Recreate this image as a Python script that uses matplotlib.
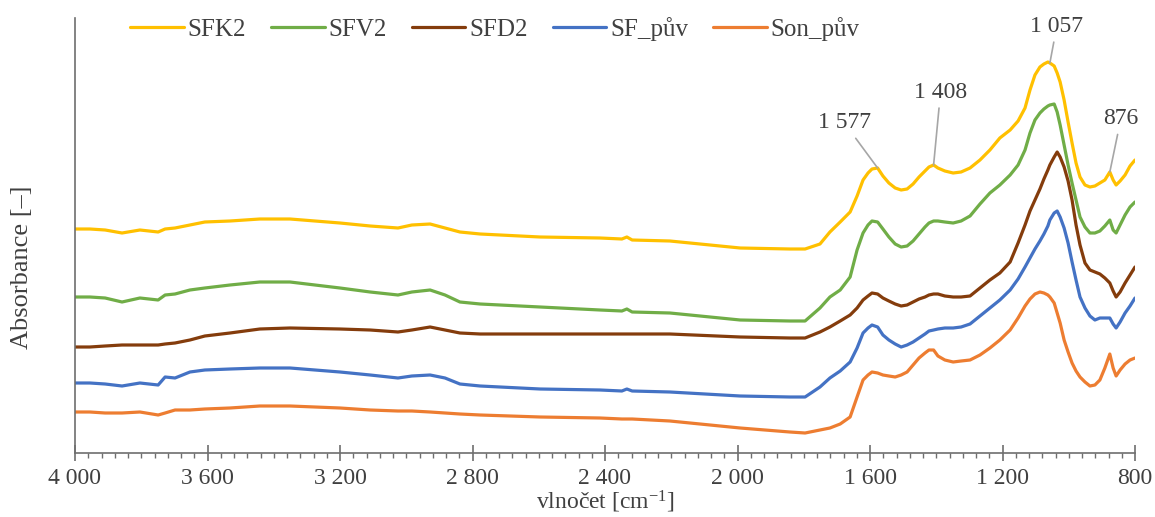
import numpy as np
import matplotlib
matplotlib.use("Agg")
import matplotlib.pyplot as plt
from matplotlib.ticker import MultipleLocator, FuncFormatter

plt.rcParams['font.family'] = ['Liberation Serif', 'DejaVu Serif']
plt.rcParams['mathtext.fontset'] = 'custom'
plt.rcParams['mathtext.rm'] = 'Liberation Serif'
plt.rcParams['mathtext.default'] = 'regular'

# wavenumbers [cm-1], shared by all spectra
wavenumber = [4000, 3955, 3909, 3858, 3804, 3749, 3728, 3698, 3653, 3608,
              3532, 3442, 3351, 3200, 3109, 3025, 2983, 2928, 2883, 2838,
              2777, 2596, 2415, 2349, 2334, 2318, 2204, 1992, 1842, 1796,
              1751, 1721, 1690, 1660, 1639, 1621, 1606, 1594, 1577, 1561,
              1543, 1524, 1506, 1488, 1470, 1452, 1434, 1422, 1408, 1395,
              1374, 1349, 1325, 1298, 1268, 1238, 1208, 1177, 1153, 1132,
              1117, 1102, 1087, 1075, 1063, 1057, 1044, 1035, 1026, 1014,
              1002, 990, 978, 966, 951, 936, 921, 906, 891, 876,
              866, 857, 845, 830, 815, 800]

# absorbance (offset spectra, arbitrary units)
sfk2 = [0.226, 0.226, 0.225, 0.222, 0.225, 0.223, 0.226, 0.227, 0.230, 0.233,
        0.234, 0.236, 0.236, 0.232, 0.229, 0.227, 0.230, 0.231, 0.227, 0.223,
        0.221, 0.218, 0.217, 0.216, 0.218, 0.215, 0.214, 0.207, 0.206, 0.206,
        0.211, 0.223, 0.233, 0.243, 0.259, 0.275, 0.282, 0.286, 0.287, 0.279,
        0.272, 0.267, 0.265, 0.266, 0.271, 0.278, 0.284, 0.288, 0.290, 0.287,
        0.284, 0.282, 0.283, 0.287, 0.295, 0.305, 0.317, 0.325, 0.334, 0.347,
        0.365, 0.380, 0.388, 0.391, 0.393, 0.392, 0.389, 0.382, 0.373, 0.355,
        0.333, 0.312, 0.292, 0.278, 0.270, 0.268, 0.269, 0.272, 0.275, 0.283,
        0.275, 0.270, 0.274, 0.280, 0.289, 0.295]
sfv2 = [0.158, 0.158, 0.157, 0.153, 0.157, 0.155, 0.160, 0.161, 0.165, 0.167,
        0.170, 0.173, 0.173, 0.167, 0.163, 0.160, 0.163, 0.165, 0.160, 0.153,
        0.151, 0.148, 0.145, 0.144, 0.146, 0.143, 0.142, 0.135, 0.134, 0.134,
        0.147, 0.158, 0.165, 0.178, 0.205, 0.222, 0.230, 0.234, 0.233, 0.226,
        0.218, 0.211, 0.208, 0.209, 0.214, 0.221, 0.228, 0.232, 0.234, 0.234,
        0.233, 0.232, 0.234, 0.239, 0.251, 0.262, 0.270, 0.280, 0.290, 0.305,
        0.322, 0.335, 0.342, 0.346, 0.349, 0.350, 0.351, 0.343, 0.330, 0.310,
        0.290, 0.272, 0.255, 0.238, 0.228, 0.222, 0.222, 0.224, 0.229, 0.235,
        0.225, 0.222, 0.230, 0.240, 0.248, 0.253]
sfd2 = [0.108, 0.108, 0.109, 0.110, 0.110, 0.110, 0.111, 0.112, 0.115, 0.119,
        0.122, 0.126, 0.127, 0.126, 0.125, 0.123, 0.125, 0.128, 0.125, 0.122,
        0.121, 0.121, 0.121, 0.121, 0.121, 0.121, 0.121, 0.118, 0.117, 0.117,
        0.123, 0.128, 0.134, 0.140, 0.147, 0.155, 0.159, 0.162, 0.161, 0.157,
        0.154, 0.151, 0.149, 0.150, 0.153, 0.156, 0.158, 0.160, 0.161, 0.161,
        0.159, 0.158, 0.158, 0.159, 0.167, 0.175, 0.182, 0.193, 0.212, 0.230,
        0.244, 0.255, 0.266, 0.276, 0.285, 0.290, 0.298, 0.303, 0.298, 0.288,
        0.274, 0.255, 0.230, 0.210, 0.192, 0.185, 0.183, 0.181, 0.177, 0.172,
        0.164, 0.158, 0.163, 0.172, 0.180, 0.188]
sf_puv = [0.072, 0.072, 0.071, 0.069, 0.072, 0.070, 0.078, 0.077, 0.083, 0.085,
          0.086, 0.087, 0.087, 0.083, 0.080, 0.077, 0.079, 0.080, 0.077, 0.071,
          0.069, 0.066, 0.065, 0.064, 0.066, 0.064, 0.063, 0.059, 0.058, 0.058,
          0.068, 0.077, 0.084, 0.093, 0.107, 0.122, 0.127, 0.130, 0.128, 0.120,
          0.115, 0.111, 0.108, 0.110, 0.113, 0.117, 0.121, 0.124, 0.125, 0.126,
          0.127, 0.127, 0.128, 0.131, 0.139, 0.147, 0.155, 0.165, 0.176, 0.188,
          0.197, 0.206, 0.214, 0.221, 0.229, 0.235, 0.242, 0.244, 0.238, 0.227,
          0.212, 0.193, 0.175, 0.158, 0.147, 0.139, 0.135, 0.137, 0.137, 0.137,
          0.131, 0.127, 0.133, 0.142, 0.149, 0.157]
son_puv = [0.043, 0.043, 0.042, 0.042, 0.043, 0.040, 0.042, 0.045, 0.045, 0.046,
           0.047, 0.049, 0.049, 0.047, 0.045, 0.044, 0.044, 0.043, 0.042, 0.041,
           0.040, 0.038, 0.037, 0.036, 0.036, 0.036, 0.034, 0.027, 0.023, 0.022,
           0.025, 0.027, 0.031, 0.038, 0.058, 0.075, 0.080, 0.083, 0.082, 0.080,
           0.079, 0.078, 0.080, 0.083, 0.090, 0.097, 0.102, 0.105, 0.105, 0.099,
           0.095, 0.093, 0.094, 0.095, 0.100, 0.107, 0.115, 0.125, 0.137, 0.149,
           0.156, 0.161, 0.163, 0.162, 0.160, 0.158, 0.152, 0.142, 0.132, 0.115,
           0.103, 0.092, 0.084, 0.078, 0.073, 0.069, 0.070, 0.075, 0.087, 0.101,
           0.087, 0.079, 0.085, 0.091, 0.095, 0.097]

series_names = ["SFK2", "SFV2", "SFD2", "SF_pův", "Son_pův"]
series_colors = ["#FFC000", "#70AD47", "#843C0C", "#4472C4", "#ED7D31"]

# labelled bands on the SFK2 spectrum
peak_labels = [1577, 1408, 1057, 876]
peak_offsets = [(-24, 25), (5, 45), (5, 19), (8, 31)]


def fmt_thousands(v, pos):
    return f"{v:,.0f}".replace(",", " ")


fig = plt.figure(figsize=(11.55, 5.17), dpi=100)
ax = fig.add_axes([75 / 1155, 1 - 453 / 517, 1060 / 1155, 435 / 517])

all_series = [sfk2, sfv2, sfd2, sf_puv, son_puv]
for name, color, vals in zip(series_names, series_colors, all_series):
    ax.plot(wavenumber, vals, color=color, lw=2.3, label=name,
            solid_joinstyle='round', solid_capstyle='round')

for wn, (dx, dy) in zip(peak_labels, peak_offsets):
    yv = sfk2[wavenumber.index(wn)]
    ax.annotate(fmt_thousands(wn, None), xy=(wn, yv), xytext=(dx, dy),
                textcoords='offset points', ha='center', va='bottom',
                fontsize=17, color='#404040',
                arrowprops=dict(arrowstyle='-', color='#a6a6a6', lw=1.2,
                                shrinkA=2, shrinkB=0))

ax.set_xlim(4000, 800)
ax.set_ylim(0.002, 0.437)
ax.xaxis.set_major_locator(MultipleLocator(400))
ax.xaxis.set_minor_locator(MultipleLocator(40))
ax.xaxis.set_major_formatter(FuncFormatter(fmt_thousands))
ax.tick_params(axis='x', which='major', direction='inout', length=12, width=1.2,
               color='#6e6e6e', labelsize=17, labelcolor='#404040', pad=5)
ax.tick_params(axis='x', which='minor', direction='out', length=3.5, width=1,
               color='#6e6e6e')
ax.set_yticks([])
for side in ['top', 'right']:
    ax.spines[side].set_visible(False)
for side in ['left', 'bottom']:
    ax.spines[side].set_color('#6e6e6e')
    ax.spines[side].set_linewidth(1.2)

ax.set_xlabel("vlnočet [cm$^{-1}$]", fontsize=17, color='#404040', labelpad=0)
ax.set_ylabel("Absorbance [–]", fontsize=19, color='#404040')
ax.yaxis.set_label_coords(-0.040, 0.426)

ax.legend(loc='center', bbox_to_anchor=(0.396, 0.975), ncol=5, frameon=False,
          fontsize=18, handlelength=2.15, handletextpad=0.15, columnspacing=1.0,
          labelcolor='#404040')

fig.savefig("out.png", dpi=100)
